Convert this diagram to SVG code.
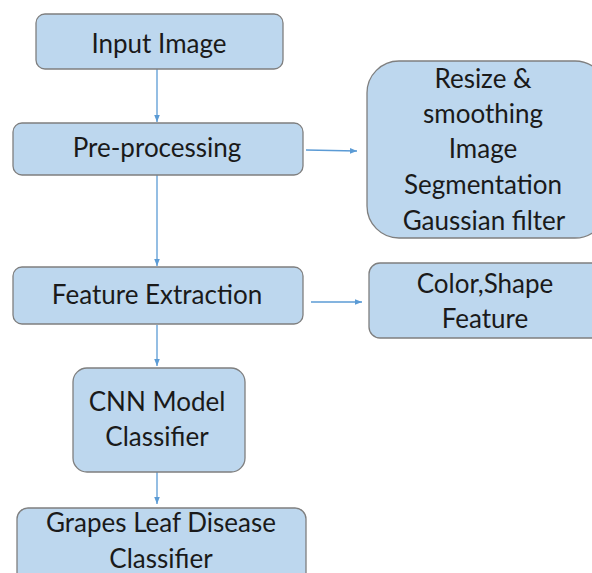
<svg xmlns="http://www.w3.org/2000/svg" width="592" height="573" viewBox="0 0 592 573">
  <defs>
    <style>
      .box { fill: #BDD7EE; stroke: #7F7F7F; stroke-width: 1.3; }
      .lbl { font-family: Lato, "Open Sans", sans-serif; font-size: 26px; fill: #1a1a1a; text-anchor: middle; }
      .link { stroke: #5B9BD5; stroke-width: 1.3; fill: none; marker-end: url(#tip); }
    </style>
    <marker id="tip" viewBox="0 0 10 10" refX="10" refY="5" markerWidth="7" markerHeight="7" markerUnits="userSpaceOnUse" orient="auto">
      <path d="M0,1 L10,5 L0,9 Z" fill="#5B9BD5"/>
    </marker>
  </defs>
  <rect width="592" height="573" fill="#ffffff"/>

  <g id="connectors">
    <line class="link" x1="157" y1="69" x2="157" y2="122"/>
    <line class="link" x1="157" y1="175" x2="157" y2="266"/>
    <line class="link" x1="157" y1="325" x2="157" y2="366"/>
    <line class="link" x1="157" y1="472" x2="157" y2="504"/>
    <line class="link" x1="306" y1="150" x2="357" y2="151"/>
    <line class="link" x1="311" y1="302" x2="362" y2="302"/>
  </g>

  <g id="input-image">
    <rect class="box" x="36" y="14" width="247" height="55" rx="9"/>
    <text class="lbl" x="159" y="53">Input Image</text>
  </g>

  <g id="pre-processing">
    <rect class="box" x="13" y="123" width="290" height="52" rx="9"/>
    <text class="lbl" x="157" y="157">Pre-processing</text>
  </g>

  <g id="preprocessing-steps">
    <rect class="box" x="367" y="61" width="240" height="177" rx="32"/>
    <text class="lbl" x="483" y="88">Resize &amp;</text>
    <text class="lbl" x="483" y="123">smoothing</text>
    <text class="lbl" x="483" y="158">Image</text>
    <text class="lbl" x="483" y="194">Segmentation</text>
    <text class="lbl" x="484" y="230">Gaussian filter</text>
  </g>

  <g id="feature-extraction">
    <rect class="box" x="13" y="267" width="290" height="57" rx="9"/>
    <text class="lbl" x="157" y="304">Feature Extraction</text>
  </g>

  <g id="feature-types">
    <rect class="box" x="369" y="263" width="240" height="75" rx="11"/>
    <text class="lbl" x="485" y="293">Color,Shape</text>
    <text class="lbl" x="485" y="328">Feature</text>
  </g>

  <g id="cnn-classifier">
    <rect class="box" x="73" y="368" width="172" height="104" rx="14"/>
    <text class="lbl" x="157" y="411">CNN Model</text>
    <text class="lbl" x="157" y="446">Classifier</text>
  </g>

  <g id="disease-classifier">
    <rect class="box" x="17" y="508" width="289" height="80" rx="11"/>
    <text class="lbl" x="161" y="532">Grapes Leaf Disease</text>
    <text class="lbl" x="161" y="568">Classifier</text>
  </g>
</svg>
